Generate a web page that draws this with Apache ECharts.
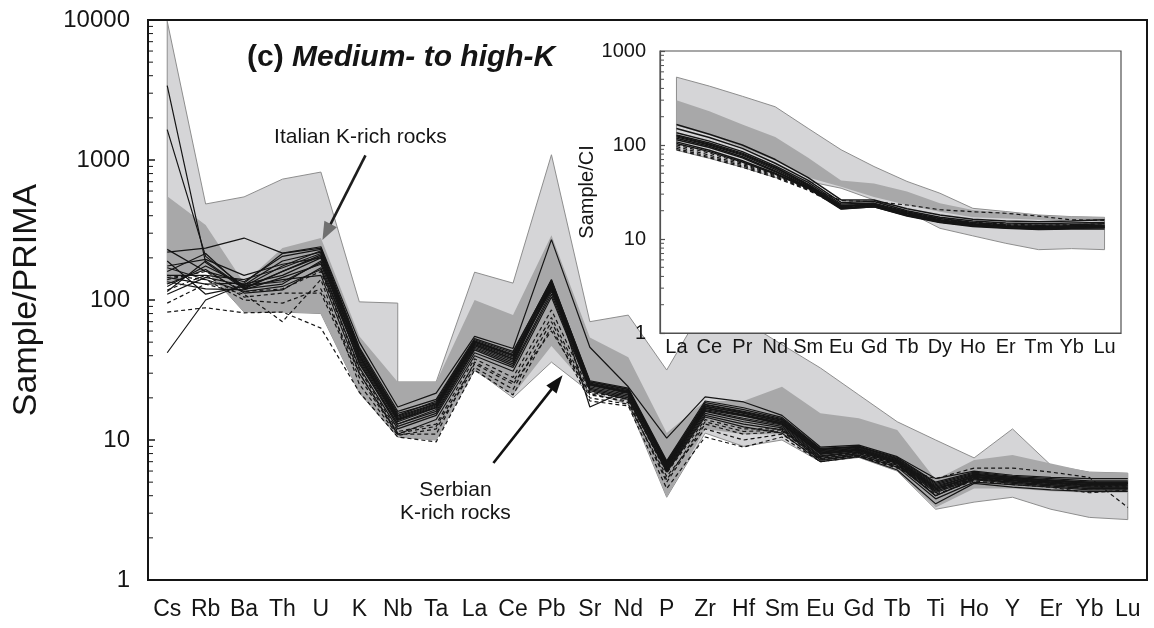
<!DOCTYPE html>
<html>
<head>
<meta charset="utf-8">
<script src="https://cdn.jsdelivr.net/npm/echarts@6/dist/echarts.min.js"></script>
<style>
  html, body { margin: 0; padding: 0; background: #fff; }
  #chart { width: 1154px; height: 628px; }
</style>
</head>
<body>
<div id="chart"></div>
<script>
// ---- Multi-element spider diagram (normalised to primitive mantle) ----
const elements = ['Cs','Rb','Ba','Th','U','K','Nb','Ta','La','Ce','Pb','Sr','Nd','P','Zr','Hf','Sm','Eu','Gd','Tb','Ti','Ho','Y','Er','Yb','Lu'];
const primaTickLabels = [1, 10, 100, 1000, 10000];

// Italian K-rich rocks: outer (light) and inner (dark) fields.
// An entry given as [a, b] is a vertical step at that element.
const italianOuterTop  = [9800, 485, 545, 730, 820, 97, [95, 26], 26, 158, 132, 1090, 70, 78, 31.6, 93, 71, 48, 32.7, 21, 13.5, 10, 7.45, 12, 6.6, 5.9, 5.8];
const italianOuterBase = [130, 165, 82, 82, 80, 21.7, 10.5, 10, 32, 20, 36, 22, 18, 3.9, 11.2, 9, 10, 7, 7.5, 6, 3.2, 3.6, 3.9, 3.2, 2.8, 2.7];
const italianInnerTop  = [550, 343, 132, 235, 277, 55, 26, 26, 100, 78, 290, 54, 39, 11.2, 19, 19, 24, 15.5, 14.3, 11.8, 5.2, 7.2, 7.8, 6.8, 5.9, 5.8];
const italianInnerBase = [130, 165, 82, 82, 80, 21.7, 10.5, 10, 31, 21, 47, 23, 19, 3.9, 12, 11, 11, 7, 7.5, 6, 3.3, 4.5, 4.5, 4.3, 4.2, 4.2];

// Serbian samples, solid profiles
const serbianSolid = [
  [3400, 185, 120, 160, 210, 40, 14, 17, 48, 38, 125, 25, 22, 6.5, 17, 15, 13, 8.0, 8.5, 7.0, 4.4, 5.5, 5.2, 5.0, 4.8, 4.9],
  [1650, 205, 125, 175, 225, 45, 15, 19, 52, 42, 140, 26, 23, 7.0, 18, 16, 14, 8.5, 9.0, 7.3, 4.8, 5.7, 5.4, 5.1, 5.0, 5.0],
  [220, 235, 277, 216, 240, 50, 17.2, 21.6, 55, 45, 270, 46, 24, 10.3, 20.3, 18.7, 15, 8.9, 9.2, 7.6, 5.3, 6.0, 5.6, 5.4, 5.3, 5.3],
  [42, 100, 130, 150, 200, 35, 13, 16, 45, 35, 130, 17.2, 22.8, 6.2, 16, 14, 12.5, 7.6, 8.2, 6.8, 4.0, 5.3, 5.0, 4.8, 4.6, 4.6],
  [230, 160, 135, 205, 230, 42, 14.5, 18, 50, 40, 135, 25, 22, 6.8, 17.5, 15.5, 13.5, 8.2, 8.6, 7.1, 4.6, 5.6, 5.3, 5.1, 4.9, 4.9],
  [160, 215, 120, 130, 190, 38, 13.5, 17, 47, 37, 120, 24, 21, 6.4, 16.5, 14.8, 13, 7.9, 8.4, 6.9, 4.3, 5.4, 5.1, 4.9, 4.7, 4.7],
  [150, 150, 140, 170, 215, 44, 15.5, 18.5, 51, 41, 128, 26, 23, 6.9, 18.5, 16.5, 14.2, 8.6, 8.9, 7.4, 4.9, 5.8, 5.4, 5.2, 5.0, 5.0],
  [135, 120, 118, 145, 180, 36, 12.5, 15.5, 44, 34, 115, 23.5, 20.5, 6.1, 15.5, 13.5, 12.2, 7.4, 8.0, 6.6, 4.0, 5.2, 4.9, 4.7, 4.5, 4.5],
  [125, 175, 128, 190, 220, 40, 14, 17.5, 49, 39, 132, 25, 22, 6.6, 17, 15.2, 13.2, 8.1, 8.5, 7.0, 4.5, 5.5, 5.2, 5.0, 4.8, 4.8],
  [170, 140, 115, 125, 165, 33, 12, 15, 42, 33, 110, 23, 20, 6.0, 15, 13, 11.8, 7.2, 7.8, 6.4, 3.8, 5.0, 4.8, 4.6, 4.4, 4.4],
  [115, 190, 122, 160, 205, 41, 14.2, 17.8, 50, 40, 137, 25.5, 22.5, 6.7, 17.3, 15.6, 13.6, 8.3, 8.7, 7.2, 4.7, 5.6, 5.3, 5.1, 4.9, 4.9],
  [145, 130, 132, 215, 235, 46, 16, 19.5, 53, 43, 138, 26.5, 23.5, 7.1, 19, 17, 14.5, 8.7, 9.0, 7.5, 5.0, 5.9, 5.5, 5.3, 5.1, 5.1],
  [190, 110, 125, 140, 150, 30, 11, 14, 40, 31, 105, 22.5, 19.5, 5.9, 14.6, 12.4, 11.2, 7.0, 7.6, 6.1, 3.5, 4.9, 4.6, 4.4, 4.3, 4.3],
  [130, 165, 112, 118, 170, 37, 13, 16.5, 46, 36, 125, 24.5, 21.5, 6.3, 16.2, 14.3, 12.8, 7.7, 8.3, 6.8, 4.2, 5.3, 5.0, 4.8, 4.6, 4.6],
  [175, 195, 150, 180, 200, 39, 13.8, 17.2, 48, 38, 122, 24.8, 21.8, 6.6, 16.8, 15, 13.3, 8.0, 8.5, 7.0, 4.5, 5.45, 5.15, 4.95, 4.75, 4.75],
  [110, 145, 127, 135, 185, 43, 14.8, 18.2, 50.5, 40.5, 118, 25.2, 22.2, 6.5, 17.8, 15.8, 13.8, 8.4, 8.8, 7.2, 4.6, 5.65, 5.3, 5.15, 4.95, 4.9]
];

// Serbian samples, dashed profiles
const serbianDashed = [
  [82, 88, 81, 82, 63, 22, 10.5, 9.7, 31.6, 21, 64, 19, 17.5, 4.5, 10.5, 8.9, 10.5, 7.0, 7.6, 6.3, 5.3, 6.3, 6.3, 5.9, 5.4, 3.3],
  [118, 150, 105, 112, 112, 28, 11, 11, 36, 26, 75, 21, 19, 5.0, 13, 11, 11.5, 7.3, 7.8, 6.5, 4.1, 5.1, 4.8, 4.6, 4.2, 4.4],
  [95, 130, 110, 70, 140, 25, 10.8, 12, 33, 23, 70, 20, 18, 5.5, 12, 10, 11, 7.2, 7.7, 6.4, 4.3, 5.2, 5.0, 4.7, 4.5, 4.5],
  [140, 160, 115, 120, 160, 32, 11.5, 13, 38, 28, 85, 22, 19.5, 5.8, 14, 12, 12, 7.4, 8.0, 6.6, 4.4, 5.3, 5.1, 4.9, 4.7, 4.6],
  [150, 140, 100, 95, 120, 30, 11.2, 12.5, 35, 25, 60, 21.5, 18.5, 5.2, 13.5, 11.5, 11.8, 7.5, 8.1, 6.7, 4.5, 5.4, 5.2, 5.0, 4.8, 4.7]
];

// ---- Inset: chondrite-normalised REE ----
const reeElements = ['La','Ce','Pr','Nd','Sm','Eu','Gd','Tb','Dy','Ho','Er','Tm','Yb','Lu'];
const ciTickLabels = [1, 10, 100, 1000];

const reeOuterTop  = [527, 423, 330, 255, 150, 89, 59, 41, 30.7, 21.2, 19.6, 18, 17.3, 17];
const reeOuterBase = [88, 72, 58, 45, 41, 34.7, 26, 19.6, 13, 10.8, 9, 7.7, 7.9, 7.7];
const reeInnerTop  = [300, 229, 165, 122, 73, 42, 39, 32, 24, 20.4, 19.1, 17.6, 17.3, 17];
const reeInnerBase = [160, 128, 94, 68, 45, 36, 28, 23, 19.5, 17, 16.5, 16, 15.8, 15.8];

const reeSolid = [
  [165, 130, 100, 70, 45, 26, 26, 21, 18, 16.2, 15.5, 15.3, 15.5, 16],
  [150, 120, 92, 64, 42, 24.5, 25, 20, 17, 15.5, 14.8, 14.5, 14.8, 15],
  [135, 110, 85, 60, 40, 23.5, 24, 19.5, 16.5, 15, 14.2, 14, 14.2, 14.5],
  [128, 105, 82, 58, 38, 22.5, 23.5, 19, 16, 14.5, 13.8, 13.5, 13.8, 14],
  [122, 100, 78, 55, 37, 22, 23, 18.5, 15.6, 14.2, 13.5, 13.2, 13.4, 13.6],
  [118, 97, 75, 53, 36, 21.5, 22.5, 18, 15.2, 13.8, 13.2, 12.8, 13, 13.2],
  [114, 94, 73, 52, 35.5, 21, 22, 17.6, 15, 13.6, 13, 12.6, 12.8, 12.8],
  [125, 102, 80, 57, 38, 22.8, 23.2, 18.8, 15.8, 14.4, 13.6, 13.3, 13.6, 13.8],
  [108, 88, 68, 50, 35, 21.2, 22.3, 18, 15.3, 14, 13.3, 13, 13.2, 13.4],
  [104, 85, 66, 49, 34.5, 20.8, 22, 17.8, 15.2, 13.9, 13.3, 13, 13.2, 13.3]
];
const reeDashed = [
  [100, 82, 64, 48, 36, 25.6, 25, 23, 20.5, 19.5, 18.8, 17.5, 16, 15.8],
  [96, 78, 62, 47, 34, 22.5, 23.5, 19, 16.5, 15, 14.5, 14, 14.2, 14.5],
  [92, 75, 60, 46, 33.5, 22, 23, 18.5, 16, 14.8, 14, 13.6, 13.8, 14],
  [89, 73, 58, 45, 33, 21.8, 22.8, 18.3, 15.8, 14.6, 13.9, 13.5, 13.6, 13.8]
];

// ---- helpers ----
const FONT = 'Liberation Sans, Arial, sans-serif';
const INK = '#151515';

function outline(vals) {
  const pts = [];
  vals.forEach((v, i) => {
    if (Array.isArray(v)) v.forEach(w => pts.push([i, w]));
    else pts.push([i, v]);
  });
  return pts;
}

function fieldSeries(xi, yi, top, base, fill, stroke, z) {
  const pts = outline(top).concat(outline(base).reverse());
  return {
    type: 'custom', xAxisIndex: xi, yAxisIndex: yi, z: z, silent: true,
    data: pts, encode: { x: 0, y: 1 },
    renderItem(params, api) {
      if (params.dataIndex !== 0) return null;
      return {
        type: 'polygon',
        shape: { points: pts.map(p => api.coord(p)) },
        style: { fill: fill, stroke: stroke || 'none', lineWidth: stroke ? 1 : 0 }
      };
    }
  };
}

function profileSeries(xi, yi, vals, dashed, z, width) {
  return {
    type: 'line', xAxisIndex: xi, yAxisIndex: yi, z: z, silent: true,
    symbol: 'none',
    data: vals.map((v, i) => [i, v]),
    lineStyle: { color: INK, width: width, type: dashed ? [4, 3] : 'solid' }
  };
}

function minorTickSeries(xi, yi, decades, len, color, z) {
  const vals = [];
  decades.forEach(d => [2, 3, 4, 5, 6, 7, 8, 9].forEach(m => vals.push([0, m * d])));
  return {
    type: 'custom', xAxisIndex: xi, yAxisIndex: yi, z: z, silent: true,
    data: vals, encode: { x: 0, y: 1 },
    renderItem(params, api) {
      const y = api.coord([0, api.value(1)])[1];
      const x0 = params.coordSys.x;
      return { type: 'line', shape: { x1: x0, y1: y, x2: x0 + len, y2: y },
               style: { stroke: color, lineWidth: 1 } };
    }
  };
}

function logLabel(list) {
  return v => {
    const r = Math.round(v);
    return list.indexOf(r) >= 0 ? String(r) : '';
  };
}

const series = [];
// main panel
series.push(fieldSeries(1, 0, italianOuterTop, italianOuterBase, '#d5d5d7', '#8e8e8e', 1));
series.push(fieldSeries(1, 0, italianInnerTop, italianInnerBase, '#a8a8a9', null, 1));
serbianDashed.forEach(v => series.push(profileSeries(1, 0, v, true, 3, 1.2)));
serbianSolid.forEach(v => series.push(profileSeries(1, 0, v, false, 3, 1.2)));
series.push(minorTickSeries(1, 0, [1, 10, 100, 1000], 5, INK, 4));
// inset panel
series.push(fieldSeries(3, 1, reeOuterTop, reeOuterBase, '#d5d5d7', '#8e8e8e', 7));
series.push(fieldSeries(3, 1, reeInnerTop, reeInnerBase, '#a8a8a9', null, 7));
reeDashed.forEach(v => series.push(profileSeries(3, 1, v, true, 8, 1.2)));
reeSolid.forEach(v => series.push(profileSeries(3, 1, v, false, 8, 1.5)));
series.push(minorTickSeries(3, 1, [1, 10, 100], 4, '#505050', 9));

const chart = echarts.init(document.getElementById('chart'), null, { renderer: 'canvas' });

chart.setOption({
  animation: false,
  backgroundColor: '#ffffff',
  textStyle: { fontFamily: FONT, color: INK },
  title: {
    left: 242, top: 38,
    text: '{a|(c) }{b|Medium- to high-K}',
    textStyle: {
      rich: {
        a: { fontFamily: FONT, fontSize: 30, fontWeight: 'bold', color: INK },
        b: { fontFamily: FONT, fontSize: 30, fontWeight: 'bold', fontStyle: 'italic', color: INK }
      }
    }
  },
  grid: [
    { left: 148, top: 20, width: 999, height: 560, show: true, borderColor: INK, borderWidth: 2, backgroundColor: 'transparent', z: 0 },
    { left: 660, top: 51, width: 461, height: 282, show: true, borderColor: '#505050', borderWidth: 1.2, backgroundColor: '#ffffff', z: 5 }
  ],
  xAxis: [
    {
      type: 'category', gridIndex: 0, data: elements, boundaryGap: true,
      axisLine: { onZero: false, lineStyle: { color: INK, width: 2 } },
      axisTick: { inside: true, length: 6, lineStyle: { color: INK, width: 1.5 } },
      axisLabel: { interval: 0, fontSize: 23, margin: 18, color: INK, fontFamily: FONT },
      splitLine: { show: false }
    },
    { type: 'value', gridIndex: 0, min: -0.5, max: 25.5, show: false },
    {
      type: 'category', gridIndex: 1, data: reeElements, boundaryGap: true, z: 6,
      axisLine: { onZero: false, lineStyle: { color: '#505050', width: 1.2 } },
      axisTick: { inside: true, length: 5, lineStyle: { color: '#505050', width: 1.2 } },
      axisLabel: { interval: 0, fontSize: 20, margin: 4, color: INK, fontFamily: FONT },
      splitLine: { show: false }
    },
    { type: 'value', gridIndex: 1, min: -0.5, max: 13.5, show: false }
  ],
  yAxis: [
    {
      type: 'log', gridIndex: 0, logBase: 10, min: 1, max: 10000,
      name: 'Sample/PRIMA', nameLocation: 'middle', nameGap: 104,
      nameTextStyle: { fontSize: 34, color: INK, fontFamily: FONT },
      axisLine: { show: true, onZero: false, lineStyle: { color: INK, width: 2 } },
      axisTick: { show: true, inside: true, length: 7, lineStyle: { color: INK, width: 1.5 } },
      axisLabel: { fontSize: 24, margin: 18, color: INK, fontFamily: FONT, formatter: logLabel(primaTickLabels) },
      splitLine: { show: false }
    },
    {
      type: 'log', gridIndex: 1, logBase: 10, min: 1, max: 1000, z: 6,
      name: 'Sample/CI', nameLocation: 'middle', nameGap: 55,
      nameTextStyle: { fontSize: 20, color: INK, fontFamily: FONT },
      axisLine: { show: true, onZero: false, lineStyle: { color: '#505050', width: 1.2 } },
      axisTick: { show: true, inside: true, length: 5, lineStyle: { color: '#505050', width: 1.2 } },
      axisLabel: { fontSize: 20, margin: 14, color: INK, fontFamily: FONT, formatter: logLabel(ciTickLabels) },
      splitLine: { show: false }
    }
  ],
  series: series
});

// ---- annotations, anchored in data space of the main panel ----
const toPx = (x, v) => chart.convertToPixel({ xAxisIndex: 1, yAxisIndex: 0 }, [x, v]);

function arrow(tail, tip, lineColor, headColor, headLen, headW) {
  const dx = tip[0] - tail[0], dy = tip[1] - tail[1];
  const L = Math.sqrt(dx * dx + dy * dy);
  const ux = dx / L, uy = dy / L;
  const bx = tip[0] - ux * headLen, by = tip[1] - uy * headLen;
  return [
    { type: 'line', z: 20, shape: { x1: tail[0], y1: tail[1], x2: bx + ux * 2, y2: by + uy * 2 },
      style: { stroke: lineColor, lineWidth: 2.6 } },
    { type: 'polygon', z: 20, shape: { points: [
        tip,
        [bx - uy * headW / 2, by + ux * headW / 2],
        [bx + uy * headW / 2, by - ux * headW / 2]
      ] }, style: { fill: headColor } }
  ];
}

const itTail = toPx(5.16, 1080), itTip = toPx(4.04, 268);
const srTail = toPx(8.49, 6.85), srTip = toPx(10.29, 29);
const itText = toPx(5.03, 1460), srText = toPx(7.5, 3.6);

chart.setOption({
  graphic: [
    { type: 'text', z: 20, x: itText[0], y: itText[1],
      style: { text: 'Italian K-rich rocks', font: '21px ' + FONT, fill: INK, align: 'center', verticalAlign: 'middle' } },
    { type: 'text', z: 20, x: srText[0], y: srText[1],
      style: { text: 'Serbian\nK-rich rocks', font: '21px ' + FONT, fill: INK, align: 'center', verticalAlign: 'middle', lineHeight: 23 } }
  ].concat(arrow(itTail, itTip, '#1e1e1e', '#707070', 18, 14))
   .concat(arrow(srTail, srTip, '#111111', '#111111', 18, 13))
});
</script>
</body>
</html>
